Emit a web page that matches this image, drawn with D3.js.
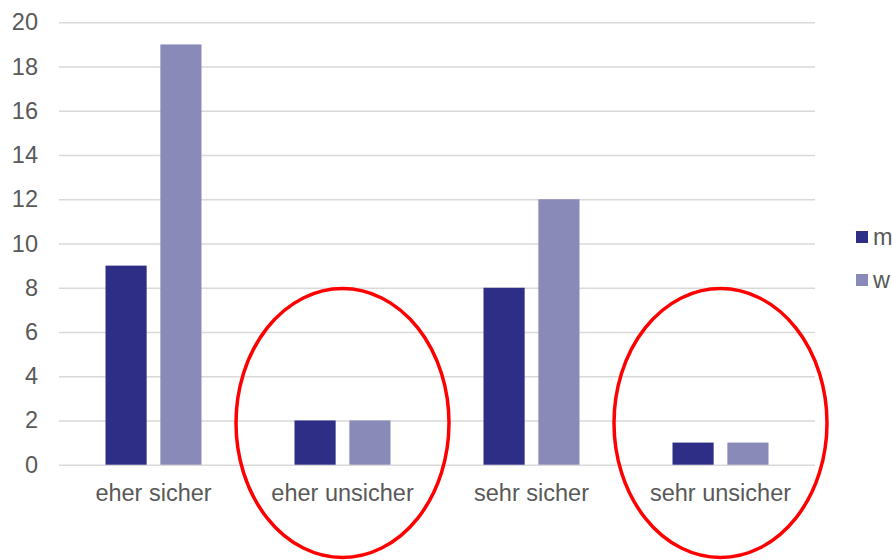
<!DOCTYPE html>
<html><head><meta charset="utf-8">
<script src="https://cdn.jsdelivr.net/npm/d3@7/dist/d3.min.js"></script>
<style>body{margin:0;background:#fff}svg{display:block}</style>
</head><body>
<script>
const categories = ["eher sicher","eher unsicher","sehr sicher","sehr unsicher"];
const seriesNames = ["m","w"];
const mValues = [9,2,8,1];
const wValues = [19,2,12,1];
const yTicks = [0,2,4,6,8,10,12,14,16,18,20];
const highlighted = ["eher unsicher","sehr unsicher"];
const colors = {m:"#2E2E86", w:"#8A8AB8"};

const W=892,H=560;
const mLeft=59,mRight=815,mTop=22.3,mBottom=464.7;
const svg=d3.select("body").append("svg").attr("width",W).attr("height",H);
const font="Liberation Sans, Arial, sans-serif";
const fs="23.5px";

const x=d3.scaleBand().domain(categories).range([mLeft,mRight]).padding(0);
const x1=d3.scaleBand().domain(seriesNames).range([0,96]).paddingInner(12/96*2).paddingOuter(0);
const y=d3.scaleLinear().domain([0,20]).range([mBottom,mTop]);

const yAxis=d3.axisLeft(y).tickValues(yTicks).tickSize(-(mRight-mLeft)).tickFormat(d3.format("d"));
const ga=svg.append("g").attr("transform",`translate(${mLeft},0)`).call(yAxis);
ga.select(".domain").remove();
ga.selectAll(".tick line").attr("stroke","#d9d9d9").attr("stroke-width",1.6);
ga.selectAll(".tick text").attr("x",-21).attr("fill","#595959").style("font-family",font).style("font-size",fs);

const data=categories.map((c,i)=>({cat:c,vals:[{k:"m",v:mValues[i]},{k:"w",v:wValues[i]}]}));
const g=svg.append("g").selectAll("g").data(data).join("g")
  .attr("transform",d=>`translate(${x(d.cat)+x.bandwidth()/2-48},0)`);
g.selectAll("rect").data(d=>d.vals).join("rect")
  .attr("x",d=>x1(d.k)).attr("width",x1.bandwidth())
  .attr("y",d=>y(d.v)).attr("height",d=>y(0)-y(d.v))
  .attr("fill",d=>colors[d.k]);

const xAxis=d3.axisBottom(x).tickSize(0).tickPadding(0);
const gx=svg.append("g").attr("transform",`translate(0,${mBottom})`).call(xAxis);
gx.select(".domain").remove();
gx.selectAll(".tick text").attr("y",36).attr("dy",0).attr("fill","#595959").style("font-family",font).style("font-size",fs);

// legend
const lg=svg.append("g").selectAll("g").data(seriesNames).join("g")
  .attr("transform",(d,i)=>`translate(856,${231+i*43})`);
lg.append("rect").attr("width",12).attr("height",12).attr("fill",d=>colors[d]);
lg.append("text").attr("x",17).attr("y",14).text(d=>d).attr("fill","#595959").style("font-family",font).style("font-size",fs);

// highlight ellipses
svg.append("g").selectAll("ellipse").data(highlighted).join("ellipse")
  .attr("cx",d=>x(d)+x.bandwidth()/2).attr("cy",423).attr("rx",106.5).attr("ry",134.5)
  .attr("fill","none").attr("stroke","#ff0000").attr("stroke-width",3.5);
</script>
</body></html>
